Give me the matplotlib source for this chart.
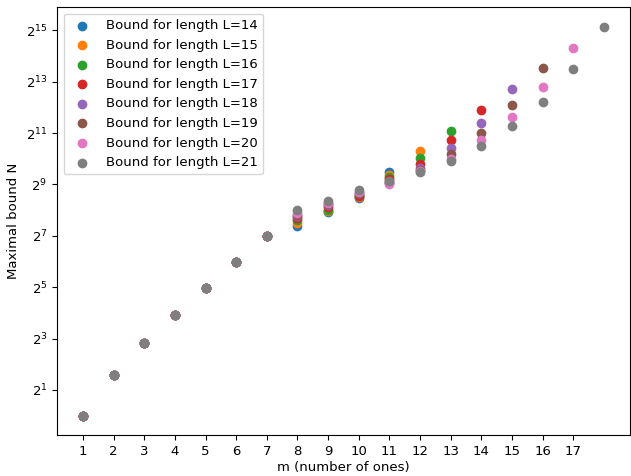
import matplotlib
matplotlib.use("Agg")
import matplotlib.pyplot as plt
from matplotlib.ticker import NullLocator

# bounds, one list per length L (index 0 -> m=1)
L14 = [1, 3, 7, 15, 31, 63, 127, 168, 243, 359, 722]
L15 = [1, 3, 7, 15, 31, 63, 127, 181, 249, 365, 666, 1259]
L16 = [1, 3, 7, 15, 31, 63, 127, 194, 260, 370, 622, 1052, 2193]
L17 = [1, 3, 7, 15, 31, 63, 127, 205, 282, 378, 590, 897, 1697, 3820]
L18 = [1, 3, 7, 15, 31, 63, 127, 217, 294, 404, 537, 789, 1367, 2720, 6740]
L19 = [1, 3, 7, 15, 31, 63, 127, 226, 301, 395, 553, 760, 1155, 2080, 4380, 11750]
L20 = [1, 3, 7, 15, 31, 63, 127, 239, 309, 422, 516, 739, 1024, 1695, 3140, 7100, 20600]
L21 = [1, 3, 7, 15, 31, 63, 127, 255, 326, 437, 567, 724, 970, 1440, 2470, 4780, 11430, 36350]

lengths = [14, 15, 16, 17, 18, 19, 20, 21]
bounds = [L14, L15, L16, L17, L18, L19, L20, L21]

plt.rcParams["font.size"] = 9.5

fig = plt.figure(figsize=(6.31, 4.76), dpi=100)
ax = fig.add_axes([0.0903, 0.0861, 0.908, 0.899])

for L, b in zip(lengths, bounds):
    m = list(range(1, len(b) + 1))
    ax.scatter(m, b, label=f"Bound for length L={L}")

ax.set_yscale("log", base=2)
ax.set_yticks([2 ** k for k in range(1, 16, 2)])
ax.yaxis.set_minor_locator(NullLocator())
ax.set_xticks(range(1, 18))
ax.set_xlabel("m (number of ones)", labelpad=2)
ax.set_ylabel("Maximal bound N")
ax.legend(loc="upper left")

fig.savefig("out.png", dpi=100)
